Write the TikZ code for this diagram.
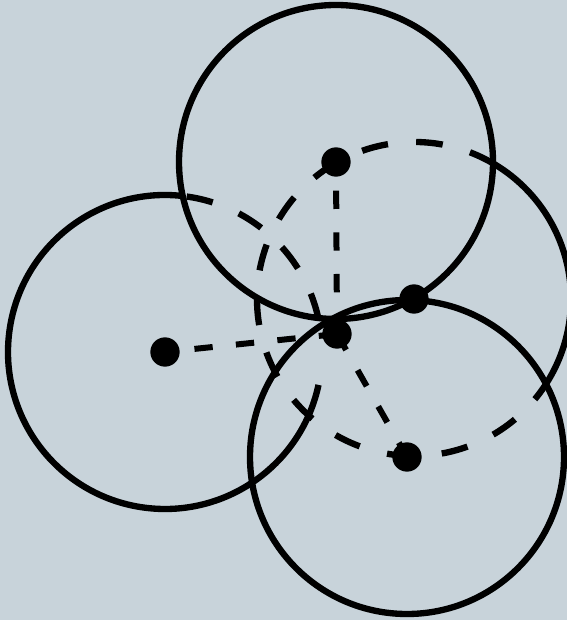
\documentclass[tikz,border=0pt]{standalone}
\definecolor{bgblue}{RGB}{200,211,218}
\tikzset{
  ring/.style={line width=0.19cm},
  ringdash/.style={line width=0.19cm, dash pattern=on 0.8cm off 0.85cm},
  linkdash/.style={line width=0.18cm, dash pattern=on 0.55cm off 0.7cm},
  dot/.style={circle, fill=black, inner sep=0pt, minimum size=0.88cm}
}
\begin{document}
\begin{tikzpicture}[x=0.03cm,y=0.03cm]
\fill[bgblue] (0,0) rectangle (567,620);
\useasboundingbox (0,0) rectangle (567,620);
\coordinate (A) at (336,458);
\coordinate (B) at (165,268);
\coordinate (C) at (407,163);
\coordinate (P) at (414,321);
\coordinate (Q) at (337,286);
% the three circles
\draw[ring] (A) circle[radius=157];
\draw[ring] (C) circle[radius=157];
\draw[ring] (B) ++(83.6:157) arc[start angle=83.6, end angle=347.9, radius=157];
\draw[ringdash] (B) ++(12.1:157) arc[start angle=12.1, end angle=83.6, radius=157];
% circle round the crossing point
\draw[ring] (P) ++(-32.4:157) arc[start angle=-32.4, end angle=59.4, radius=157];
\draw[ringdash] (P) ++(59.4:157) arc[start angle=59.4, end angle=327.6, radius=157];
% links to the middle
\draw[linkdash] (Q) -- (A);
\draw[linkdash] (Q) -- (B);
\draw[linkdash] (Q) -- (C);
\node[dot] (dotA) at (A) {};
\node[dot] (dotB) at (B) {};
\node[dot] (dotC) at (C) {};
\node[dot] (dotP) at (P) {};
\node[dot] (dotQ) at (Q) {};
\end{tikzpicture}
\end{document}
